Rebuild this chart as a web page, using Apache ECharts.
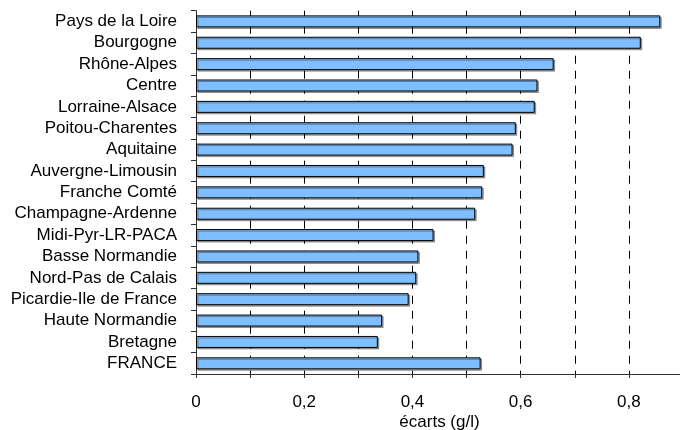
<!DOCTYPE html>
<html>
<head>
<meta charset="utf-8">
<script src="https://cdn.jsdelivr.net/npm/echarts@6/dist/echarts.min.js"></script>
<style>html,body{margin:0;padding:0;background:#fff}#c{width:680px;height:430px}</style>
</head>
<body>
<div id="c"></div>
<script>
const categories = ["Pays de la Loire","Bourgogne","Rhône-Alpes","Centre","Lorraine-Alsace","Poitou-Charentes","Aquitaine","Auvergne-Limousin","Franche Comté","Champagne-Ardenne","Midi-Pyr-LR-PACA","Basse Normandie","Nord-Pas de Calais","Picardie-Ile de France","Haute Normandie","Bretagne","FRANCE"];
const ecarts = [0.858,0.822,0.661,0.631,0.626,0.591,0.585,0.532,0.529,0.516,0.439,0.411,0.407,0.393,0.344,0.336,0.526];
const xTickLabels = ["0","0,2","0,4","0,6","0,8"];
const axisTitle = "écarts (g/l)";

const chart = echarts.init(document.getElementById('c'));
const font = 'Arial, "Liberation Sans", sans-serif';
chart.setOption({
  animation: false,
  grid: {left: 196, width: 487, top: 10.7, bottom: 56, containLabel: false, outerBoundsMode: 'none'},
  xAxis: {
    type: 'value', min: 0, max: 0.9, interval: 0.1,
    name: axisTitle, nameLocation: 'middle', nameGap: 40, nameMoveOverlap: false,
    nameTextStyle: {fontFamily: font, fontSize: 17, color: '#000'},
    axisLine: {show: true, lineStyle: {color: '#333', width: 1}},
    axisTick: {show: true, length: 4, lineStyle: {color: '#333'}},
    axisLabel: {
      fontFamily: font, fontSize: 17, color: '#000', margin: 20,
      formatter: function (v) {
        const k = Math.round(v * 10);
        return k % 2 === 0 ? xTickLabels[k / 2] : '';
      }
    },
    splitLine: {show: true, showMinLine: false, showMaxLine: false, lineStyle: {color: '#000', width: 1, type: [8, 7]}}
  },
  yAxis: {
    type: 'category', data: categories, inverse: true,
    axisLine: {show: true, lineStyle: {color: '#333', width: 1}},
    axisTick: {show: true, length: 5, lineStyle: {color: '#333'}},
    axisLabel: {fontFamily: font, fontSize: 17, color: '#000', margin: 19, interval: 0},
    splitLine: {show: false}
  },
  series: [{
    type: 'bar', data: ecarts, barWidth: 12,
    itemStyle: {
      color: '#80BFFF', borderColor: '#000', borderWidth: 1,
      shadowColor: 'rgba(0,0,0,0.35)', shadowOffsetX: 1.5, shadowOffsetY: 1.5, shadowBlur: 0
    }
  }]
});
</script>
</body>
</html>
